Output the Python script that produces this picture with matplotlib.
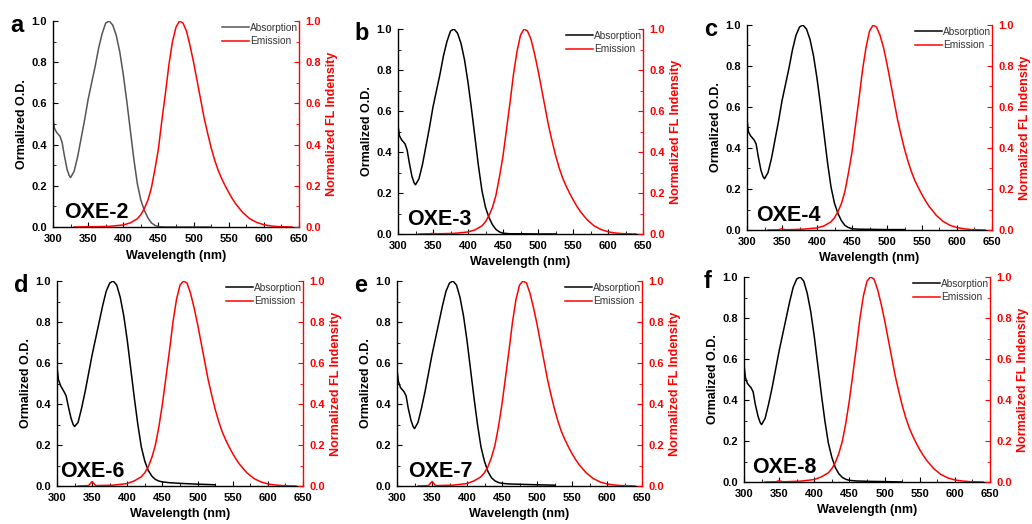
import matplotlib
matplotlib.use("Agg")
import matplotlib.pyplot as plt
from matplotlib.ticker import MultipleLocator

plt.rcParams['font.family'] = ['Liberation Sans', 'DejaVu Sans']

# ---------------- data ----------------
panel_letters = ['a', 'b', 'c', 'd', 'e', 'f']
compound_names = ['OXE-2', 'OXE-3', 'OXE-4', 'OXE-6', 'OXE-7', 'OXE-8']

wl_abs = [300, 302, 305, 310, 313, 316, 320, 323, 325, 330, 335, 340, 345, 350,
          355, 360, 365, 370, 375, 380, 385, 390, 395, 400, 405, 410, 415, 420,
          425, 430, 435, 440, 445, 450, 460, 480, 500, 525]

abs_oxe2 = [0.53, 0.48, 0.46, 0.44, 0.41, 0.35, 0.28, 0.25, 0.24, 0.27, 0.34, 0.43, 0.52, 0.62,
            0.70, 0.78, 0.87, 0.94, 0.99, 1.00, 0.98, 0.93, 0.85, 0.74, 0.61, 0.47, 0.33, 0.21,
            0.13, 0.08, 0.045, 0.02, 0.008, 0.002, 0.0, 0.0, 0.0, 0.0]
abs_oxe3 = [0.53, 0.48, 0.46, 0.44, 0.41, 0.35, 0.28, 0.25, 0.24, 0.27, 0.34, 0.43, 0.52, 0.62,
            0.70, 0.78, 0.87, 0.94, 0.99, 1.00, 0.98, 0.93, 0.85, 0.74, 0.61, 0.47, 0.33, 0.21,
            0.13, 0.08, 0.045, 0.022, 0.01, 0.004, 0.001, 0.001, 0.0, 0.0]
abs_oxe4 = [0.54, 0.48, 0.46, 0.44, 0.42, 0.36, 0.29, 0.26, 0.25, 0.28, 0.35, 0.44, 0.53, 0.63,
            0.71, 0.79, 0.88, 0.95, 0.99, 1.00, 0.98, 0.93, 0.85, 0.74, 0.61, 0.47, 0.33, 0.21,
            0.13, 0.08, 0.045, 0.022, 0.012, 0.006, 0.004, 0.003, 0.002, 0.002]
abs_oxe6 = [0.58, 0.52, 0.49, 0.46, 0.44, 0.39, 0.33, 0.30, 0.29, 0.31, 0.38, 0.46, 0.55, 0.64,
            0.72, 0.80, 0.88, 0.95, 0.99, 1.00, 0.98, 0.92, 0.83, 0.71, 0.57, 0.43, 0.30, 0.19,
            0.12, 0.075, 0.048, 0.032, 0.024, 0.02, 0.016, 0.012, 0.009, 0.006]
abs_oxe7 = [0.57, 0.51, 0.48, 0.46, 0.44, 0.38, 0.32, 0.29, 0.28, 0.31, 0.38, 0.46, 0.55, 0.64,
            0.72, 0.80, 0.88, 0.95, 0.99, 1.00, 0.98, 0.92, 0.83, 0.71, 0.57, 0.43, 0.30, 0.19,
            0.12, 0.07, 0.04, 0.025, 0.017, 0.013, 0.01, 0.008, 0.006, 0.004]
abs_oxe8 = [0.57, 0.51, 0.48, 0.46, 0.44, 0.38, 0.32, 0.29, 0.28, 0.31, 0.38, 0.46, 0.55, 0.64,
            0.72, 0.80, 0.88, 0.95, 0.99, 1.00, 0.98, 0.92, 0.83, 0.71, 0.57, 0.43, 0.30, 0.19,
            0.12, 0.07, 0.04, 0.022, 0.013, 0.008, 0.005, 0.003, 0.002, 0.0]

wl_em = [330, 345, 350, 355, 380, 400, 410, 420, 425, 430, 435, 440, 445, 450, 455, 460,
         465, 470, 475, 480, 485, 490, 495, 500, 505, 510, 515, 520, 525, 530, 535,
         540, 545, 550, 555, 560, 570, 580, 590, 600, 610, 620, 640]

em_oxe2 = [0.0, 0.001, 0.002, 0.001, 0.003, 0.01, 0.02, 0.04, 0.06, 0.09, 0.13, 0.19, 0.28, 0.38, 0.52, 0.65,
           0.79, 0.90, 0.97, 1.00, 0.99, 0.95, 0.88, 0.80, 0.71, 0.62, 0.53, 0.455, 0.385, 0.325, 0.275,
           0.235, 0.20, 0.168, 0.138, 0.112, 0.07, 0.04, 0.022, 0.011, 0.005, 0.002, 0.0]
em_oxe3 = [0.0, 0.001, 0.003, 0.001, 0.003, 0.01, 0.02, 0.04, 0.06, 0.09, 0.13, 0.19, 0.28, 0.38, 0.51, 0.64,
           0.78, 0.89, 0.97, 1.00, 0.99, 0.95, 0.88, 0.80, 0.71, 0.62, 0.53, 0.455, 0.385, 0.325, 0.275,
           0.235, 0.20, 0.168, 0.138, 0.112, 0.07, 0.04, 0.022, 0.011, 0.005, 0.002, 0.0]
em_oxe4 = [0.0, 0.001, 0.006, 0.001, 0.004, 0.01, 0.02, 0.04, 0.06, 0.09, 0.13, 0.19, 0.28, 0.38, 0.51, 0.64,
           0.78, 0.89, 0.97, 1.00, 0.99, 0.95, 0.89, 0.81, 0.72, 0.63, 0.54, 0.465, 0.395, 0.335, 0.283,
           0.24, 0.205, 0.172, 0.142, 0.116, 0.073, 0.042, 0.023, 0.012, 0.006, 0.002, 0.0]
em_oxe6 = [0.0, 0.002, 0.022, 0.002, 0.004, 0.012, 0.025, 0.045, 0.065, 0.095, 0.14, 0.20, 0.29, 0.40, 0.53, 0.66,
           0.80, 0.91, 0.98, 1.00, 0.99, 0.94, 0.87, 0.79, 0.70, 0.61, 0.52, 0.445, 0.375, 0.315, 0.265,
           0.225, 0.19, 0.158, 0.13, 0.105, 0.065, 0.037, 0.02, 0.01, 0.005, 0.002, 0.0]
em_oxe7 = [0.0, 0.002, 0.022, 0.002, 0.004, 0.012, 0.025, 0.045, 0.065, 0.095, 0.14, 0.20, 0.29, 0.40, 0.53, 0.66,
           0.80, 0.91, 0.98, 1.00, 0.99, 0.94, 0.87, 0.79, 0.70, 0.61, 0.52, 0.445, 0.375, 0.315, 0.265,
           0.225, 0.19, 0.158, 0.13, 0.105, 0.065, 0.037, 0.02, 0.01, 0.005, 0.002, 0.0]
em_oxe8 = [0.0, 0.001, 0.006, 0.001, 0.004, 0.012, 0.025, 0.045, 0.065, 0.095, 0.14, 0.20, 0.29, 0.40, 0.53, 0.66,
           0.80, 0.91, 0.98, 1.00, 0.99, 0.94, 0.87, 0.79, 0.70, 0.61, 0.52, 0.445, 0.375, 0.315, 0.265,
           0.225, 0.19, 0.158, 0.13, 0.105, 0.065, 0.037, 0.02, 0.01, 0.005, 0.002, 0.0]

abs_series = [abs_oxe2, abs_oxe3, abs_oxe4, abs_oxe6, abs_oxe7, abs_oxe8]
em_series = [em_oxe2, em_oxe3, em_oxe4, em_oxe6, em_oxe7, em_oxe8]

x_ticks = [300, 350, 400, 450, 500, 550, 600, 650]
y_ticks = [0.0, 0.2, 0.4, 0.6, 0.8, 1.0]

# ---------------- layout (pixel boxes: left, right, top, bottom) ----------------
W, H = 1032, 524
boxes = [(53, 299, 21, 227), (398, 643, 29, 234), (747, 992, 25, 230),
         (57, 303, 281, 486), (397, 642, 281, 486), (744, 990, 277, 482)]
abs_colors = ['#555555', 'black', 'black', 'black', 'black', 'black']
name_x = [316, 313, 313, 304, 316, 311]

fig = plt.figure(figsize=(W / 100, H / 100), dpi=100)

for i in range(6):
    l, r, t, b = boxes[i]
    ax = fig.add_axes([l / W, 1 - b / H, (r - l) / W, (b - t) / H])
    ax2 = ax.twinx()
    la, = ax.plot(wl_abs, abs_series[i], color=abs_colors[i], lw=1.1, label='Absorption')
    le, = ax2.plot(wl_em, em_series[i], color='red', lw=1.1, label='Emission')

    ax.set_xlim(300, 650)
    ax.set_ylim(0, 1.0)
    ax2.set_ylim(0, 1.0)
    ax.set_xticks(x_ticks)
    ax.set_yticks(y_ticks)
    ax2.set_yticks(y_ticks)
    ax.xaxis.set_minor_locator(MultipleLocator(25))
    ax.yaxis.set_minor_locator(MultipleLocator(0.1))
    ax2.yaxis.set_minor_locator(MultipleLocator(0.1))

    for a in (ax, ax2):
        a.spines['top'].set_visible(False)
        for s in a.spines.values():
            s.set_linewidth(1.0)
    ax2.spines['left'].set_visible(False)
    ax2.spines['bottom'].set_visible(False)
    ax2.spines['right'].set_color('red')
    ax.spines['right'].set_visible(False)

    ax.tick_params(axis='x', which='major', direction='in', length=3.5, width=0.8,
                   labelsize=8, pad=5)
    ax.tick_params(axis='y', which='major', direction='in', length=3.5, width=0.8,
                   labelsize=8, pad=4.5)
    ax.tick_params(axis='both', which='minor', direction='in', length=2, width=0.6)
    ax2.tick_params(axis='y', which='major', direction='in', length=3.5, width=0.8,
                    labelsize=8, pad=4.5, colors='red')
    ax2.tick_params(axis='y', which='minor', direction='in', length=2, width=0.6, colors='red')
    ax.set_xticklabels([f'{v}' for v in x_ticks], fontweight='bold')
    ax.set_yticklabels([f'{v:.1f}' for v in y_ticks], fontweight='bold')
    ax2.set_yticklabels([f'{v:.1f}' for v in y_ticks], fontweight='bold', color='red')

    ax.set_xlabel('Wavelength (nm)', fontsize=9, fontweight='bold', labelpad=4)
    ax.set_ylabel('Ormalized O.D.', fontsize=9, fontweight='bold', labelpad=2)
    ax2.set_ylabel('Normalized FL Indensity', fontsize=9, fontweight='bold', color='red',
                   labelpad=4)

    leg = ax.legend(handles=[la, le], loc='upper right', frameon=False, fontsize=7.3,
                    handlelength=2.6, handletextpad=0.1, labelspacing=0.3,
                    borderaxespad=0.0, borderpad=0.1, bbox_to_anchor=(1.0, 0.995))
    for txt in leg.get_texts():
        txt.set_color('#333333')

    ax.text(name_x[i], 0.045, compound_names[i], fontsize=15.5, fontweight='bold',
            ha='left', va='baseline')
    fig.text((l - 36) / W, 1 - (t + 5) / H, panel_letters[i], fontsize=17,
             fontweight='bold', ha='center', va='center')

fig.savefig('out.png', dpi=100)
